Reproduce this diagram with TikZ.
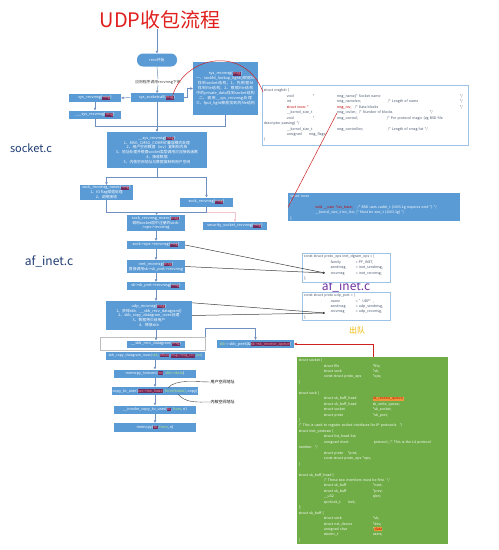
\documentclass[tikz,border=0pt]{standalone}
\usepackage{fontspec}
\setmainfont{Noto Sans CJK SC}
\XeTeXlinebreaklocale "zh"
\XeTeXlinebreakskip = 0pt plus 1pt
\usetikzlibrary{arrows.meta,calc}
\definecolor{boxblue}{HTML}{5B9BD5}
\definecolor{conn}{HTML}{6E8FBF}
\definecolor{sborder}{HTML}{9DC3E6}
\definecolor{sgreen}{HTML}{70AD47}
\definecolor{ttlred}{HTML}{E0201E}
\definecolor{navy}{HTML}{1F3B73}
\definecolor{purp}{HTML}{7030A0}
\definecolor{orng}{HTML}{F2B800}
\definecolor{tagbg}{HTML}{6E2B5E}
\definecolor{tagfg}{HTML}{FF8C8C}
\definecolor{codered}{HTML}{C00000}
\definecolor{lgreen}{HTML}{B5E68A}
\definecolor{stxt}{HTML}{44546A}
\definecolor{lpink}{HTML}{F2C4CC}
\definecolor{dkline}{HTML}{404040}
\definecolor{redl}{HTML}{D02020}
\definecolor{hlor}{HTML}{E89A3C}
\newcommand{\fsb}{\fontsize{3.8}{4.9}\selectfont}
\newcommand{\fss}{\fontsize{3.5}{5.45}\selectfont}
\newcommand{\tg}[1]{{\setlength{\fboxsep}{0.3pt}\colorbox{tagbg}{\color{tagfg}#1}}}
\newcommand{\gn}[1]{{\color{lgreen}#1}}
\newcommand{\rd}[1]{{\color{codered}#1}}
\newcommand{\hlo}[1]{{\setlength{\fboxsep}{0.3pt}\colorbox{hlor}{\color{codered}#1}}}
\newcommand{\cl}[2]{\makebox[#1pt][l]{#2}}
\newcommand{\ind}[1]{\hspace*{#1pt}}
\tikzset{
  bx/.style={fill=boxblue,text=white,font=\fsb,inner sep=0.5pt,align=center},
  ln/.style={draw=conn,line width=0.5pt},
  ar/.style={ln,-{Triangle[length=2.4pt,width=2.4pt]}},
  arl/.style={draw=lpink,line width=0.5pt,-{Triangle[length=2.4pt,width=2.4pt]}},
  dk/.style={draw=dkline,line width=0.5pt,-{Triangle[length=2pt,width=2pt]}},
  rl/.style={draw=redl,line width=0.5pt},
  sbox/.style={draw=sborder,line width=0.6pt,fill=white,text=stxt,font=\fss,inner sep=1.5pt,align=left,anchor=north west},
  ann/.style={draw=black!75,line width=0.4pt},
  bigl/.style={inner sep=0pt},
}
\begin{document}
\begin{tikzpicture}[x=1pt,y=-1pt]
\fill[white] (0,0) rectangle (499,550);
\path[use as bounding box] (0,0) rectangle (499,550);

% title and file labels
\node[bigl,font=\fontsize{20}{24}\selectfont,text=ttlred] (title) at (160,20) {UDP收包流程};
\node[bigl,font=\fontsize{11}{13}\selectfont,text=navy] (lsock) at (31,148) {socket.c};
\node[bigl,font=\fontsize{12}{14}\selectfont,text=navy] (laf1) at (49,261) {af\_inet.c};
\node[bigl,font=\fontsize{12}{14}\selectfont,text=purp] (laf2) at (346,286) {af\_inet.c};
\node[bigl,font=\fontsize{8}{10}\selectfont,text=orng] (lout) at (357,330) {出队};

% socket.c part
\node[bx,rounded corners=6pt,minimum width=40pt,minimum height=13pt] (start) at (157,60) {recv开始};
\node[bx,minimum width=53pt,minimum height=8.5pt] (sc) at (157,97.5) {sys\_socketcall(\tg{msg})};
\node[fill=white,inner sep=0.5pt,font=\fsb,text=black!75] (lbl1) at (158,82) {应用程序调用recvmsg下来};
\node[bx,minimum width=52pt,minimum height=8pt] (sr) at (95,98) {sys\_recvmsg(\tg{msg})};
\node[bx,minimum width=52pt,minimum height=8pt] (ssr) at (95,114.5) {\_\_\_sys\_recvmsg(\tg{msg})};
\node[bx,minimum width=65pt,minimum height=53pt,text width=62pt] (big) at (225.5,88.5) {sys\_recvmsg(\tg{msg})\\一、sockfd\_lookup\_light()根据fd找到socket结构；1、先根据fd找到file结构；2、根据file结构中的private\_data找到socket结构\\二、调用\_\_sys\_recvmsg处理\\三、fput\_light释放找到的file结构};
\node[bx,minimum width=100pt,minimum height=36pt] (sysr) at (157,150) {\_\_sys\_recvmsg(\tg{msg})\\1、MSG\_CMSG\_COMPAT兼容模式处理\\2、用户空间数据（iov）复制到内核\\3、地址处理并根据socket类型调用对应接收函数\\4、接收数据\\5、内核空间地址与数据复制到用户空间};
\node[bx,minimum width=53pt,minimum height=15pt] (srn) at (106.5,192.5) {sock\_recvmsg\_nosec(\tg{msg})\\1、IO flag赋值处理\\2、调用接收};
\node[bx,minimum width=53pt,minimum height=9pt] (skr) at (206.5,202) {sock\_recvmsg(\tg{msg})};
\node[bx,minimum width=58pt,minimum height=16pt] (srn2) at (156,223) {sock\_recvmsg\_nosec(\tg{msg})\\调用socket层中注册的sock-\\>ops->recvmsg};
\node[bx,minimum width=64pt,minimum height=8pt] (sec) at (235,226) {security\_socket\_recvmsg(\tg{msg})};
\node[bx,minimum width=58pt,minimum height=8pt] (sor) at (156,245) {sock->ops->recvmsg(\tg{msg})};

% af_inet.c part
\node[bx,minimum width=58pt,minimum height=13pt] (inr) at (156,266.5) {inet\_recvmsg(\tg{msg})\\直接调用sk->sk\_prot->recvmsg};
\node[bx,minimum width=58pt,minimum height=8pt] (spr) at (156,286) {sk->sk\_prot->recvmsg(\tg{msg})};
\node[bx,minimum width=86pt,minimum height=29pt] (udp) at (149,315.5) {udp\_recvmsg(\tg{msg})\\1、获得skb：\_\_skb\_recv\_datagram()\\2、skb\_copy\_datagram\_iovec处理\\3、数据拷贝给用户\\4、释放skb};
\node[draw=black!25,line width=0.5pt,minimum width=105pt,minimum height=13pt] (grp) at (152.5,343.5) {};
\node[bx,minimum width=58pt,minimum height=7pt] (skrd) at (156,344) {\_\_skb\_recv\_datagram(\tg{msg})};
\node[bx,minimum width=99pt,minimum height=8pt,font=\fontsize{3.4}{4.5}\selectfont] (scd) at (155.5,356) {skb\_copy\_datagram\_iovec(\gn{skb}, \tg{offset}, \tg{msg->msg\_iov}, \gn{len})};
\node[bx,minimum width=82pt,minimum height=8pt] (mti) at (155,373.5) {memcpy\_toiovec(\tg{iov}, \gn{skb->data})};
\node[bx,minimum width=82pt,minimum height=8pt] (ctu) at (155,391) {copy\_to\_user(\tg{iov->iov\_base}, \gn{from(kdata)}, copy)};
\node[bx,minimum width=82pt,minimum height=8pt] (ictu) at (155,409.5) {\_\_invoke\_copy\_to\_user(\tg{to}, \gn{from}, n)};
\node[bx,minimum width=82pt,minimum height=9pt] (mcp) at (155,427.5) {memcpy(\tg{to}, \gn{from}, n)};
\node[bx,minimum width=77pt,minimum height=8pt] (peek) at (255.5,344) {\gn{skb} = skb\_peek(\&\tg{sk->sk\_receive\_queue})};
\node[inner sep=0.5pt,font=\fontsize{4}{5}\selectfont,anchor=west] (ulbl) at (210,382) {用户空间地址};
\node[inner sep=0.5pt,font=\fontsize{4}{5}\selectfont,anchor=west] (klbl) at (210,402) {内核空间地址};

% struct boxes
\node[sbox,minimum width=206pt,minimum height=60pt,text width=203pt] (msghdr) at (262,85) {struct msghdr \{\\
\ind{23}\cl{26}{void}\cl{24}{*}\cl{18}{msg\_name;}\cl{105}{/* Socket name}*/\\
\ind{23}\cl{50}{int}\cl{51}{msg\_namelen;}\cl{72}{/* Length of name}*/\\
\ind{23}\cl{50}{\rd{struct iovec *}}\cl{18}{\rd{msg\_iov;}}\cl{105}{/* Data blocks}*/\\
\ind{23}\cl{50}{\_\_kernel\_size\_t}\cl{93}{msg\_iovlen;\ \ /* Number of blocks}*/\\
\ind{23}\cl{26}{void}\cl{24}{*}\cl{50}{msg\_control;}/* Per protocol magic (eg BSD file\\
descriptor passing) */\\
\ind{23}\cl{50}{\_\_kernel\_size\_t}\cl{51}{msg\_controllen;}/* Length of cmsg list */\\
\ind{23}\cl{22}{unsigned}msg\_flags;\\
\}};
\node[sbox,draw=none,fill=boxblue,text=white,minimum width=172pt,minimum height=27pt,text width=168pt] (iov) at (288,193) {struct iovec\\
\{\\
\ind{25}\rd{void \_\_user *iov\_base;}\ \ \ \ /* BSD uses caddr\_t (1003.1g requires void *) */\\
\ind{25}\_\_kernel\_size\_t iov\_len; /* Must be size\_t (1003.1g) */\\
\};};
\node[sbox,minimum width=88pt,minimum height=29pt,text width=85pt] (ido) at (302,253) {const struct proto\_ops inet\_dgram\_ops = \{\\
\ind{26}\cl{26}{.family}= PF\_INET,\\
\ind{26}\cl{26}{.sendmsg}= inet\_sendmsg,\\
\ind{26}\cl{26}{.recvmsg}= inet\_recvmsg,\\
\};};
\node[sbox,minimum width=88pt,minimum height=27pt,text width=85pt] (uprot) at (302,292) {const struct proto udp\_prot = \{\\
\ind{26}\cl{26}{.name}= "UDP",\\
\ind{26}\cl{26}{.sendmsg}= udp\_sendmsg,\\
\ind{26}\cl{26}{.recvmsg}= udp\_recvmsg,\\
\};};
\node[sbox,draw=none,fill=sgreen,text=white,minimum width=151pt,minimum height=184pt,text width=148pt] (grn) at (297,357) {struct socket \{\\
\ind{25}\cl{49}{struct file}*file;\\
\ind{25}\cl{49}{struct sock}*sk;\\
\ind{25}\cl{49}{const struct proto\_ops}*ops;\\
\}\\[5.45pt]
struct sock \{\\
\ind{25}\cl{49}{struct sk\_buff\_head}\hlo{sk\_receive\_queue;}\\
\ind{25}\cl{49}{struct sk\_buff\_head}sk\_write\_queue;\\
\ind{25}\cl{49}{struct socket}*sk\_socket;\\
\ind{25}\cl{49}{struct proto}*sk\_prot;\\
\}\\
/* This is used to register socket interfaces for IP protocols.\ \ */\\
struct inet\_protosw \{\\
\ind{25}struct list\_head list;\\
\ind{25}\cl{50}{unsigned short}protocol; /* This is the L4 protocol\\
number.\ \ */\\
\ind{25}\cl{24}{struct proto}*prot;\\
\ind{25}const struct proto\_ops *ops;\\
\}\\[5.45pt]
struct sk\_buff\_head \{\\
\ind{25}/* These two members must be first. */\\
\ind{25}\cl{49}{struct sk\_buff}*next;\\
\ind{25}\cl{49}{struct sk\_buff}*prev;\\
\ind{25}\cl{49}{\_\_u32}qlen;\\
\ind{25}\cl{24}{spinlock\_t}lock;\\
\};\\
struct sk\_buff \{\\
\ind{25}\cl{49}{struct sock}*sk;\\
\ind{25}\cl{49}{struct net\_device}*dev;\\
\ind{25}\cl{49}{unsigned char}*\hlo{data};\\
\ind{25}\cl{49}{atomic\_t}users;\\
\}};

% junction coordinates
\coordinate (j1) at (157,126);
\coordinate (j2) at (157,177);
\coordinate (j3) at (157,212);
\coordinate (idoR) at ($(ido.north west)+(23,20)$);
\coordinate (udpR) at ($(uprot.north west)+(23,21)$);
\coordinate (miov) at ($(msghdr.north west)+(75,28)$);
\coordinate (arcA) at ($(sc.east)+(-11,-2)$);
\coordinate (arcB) at ($(msghdr.north west)+(1,7)$);
\coordinate (u1) at ($(ctu.north)+(13,1)$);
\coordinate (k1) at ($(ctu.south)+(23,-1)$);
\coordinate (gtop) at ($(grn.north west)+(76,0)$);

% connectors
\draw[ar] (title.south -| start.north) -- (start.north);
\draw[ln] (start.south) -- (lbl1.north);
\draw[ar] (lbl1.south) -- (sc.north);
\draw[ar] (sc.west) -- (sr.east);
\draw[ar] (sc.east) -- ++(4,0) |- (big.west);
\draw[ar] (sr.south) -- (ssr.north);
\draw[ln] (ssr.south) |- (j1);
\draw[ln] (big.south) |- (j1);
\draw[ar] (sc.south) -- (sysr.north);
\draw[ln] (sysr.south) -- (j2);
\draw[ar] (j2) -| (srn.north);
\draw[ar] (j2) -| (skr.north);
\draw[ln] (srn.south) |- (j3);
\draw[ln] (skr.south) |- (j3);
\draw[arl] (skr.south |- j3) -| (sec.north);
\draw[ar] (j3) -- (srn2.north);
\draw[ar] (srn2.south) -- (sor.north);
\draw[ar] (sor.south) -- (inr.north);
\draw[ar] (inr.south) -- (spr.north);
\draw[ar] (spr.south) -- (spr.south |- udp.north);
\draw[ar] (spr.south |- udp.south) -- (skrd.north);
\draw[ar] (scd.south -| mti.north) -- (mti.north);
\draw[ar] (mti.south) -- (ctu.north);
\draw[ar] (ctu.south) -- (ictu.north);
\draw[ar] (ictu.south) -- (mcp.north);
\draw[ar] (grp.north east) -- ++(0,-9) -| (peek.north);
\draw[dk] (sor.east) -- (idoR);
\draw[dk] (inr.east) -- (idoR);
\draw[dk] ($(udp.north east)+(0,2)$) -- (udpR);
\draw[dk] (udp.east) -- (udpR);
\draw[rl] (arcA) .. controls (185,55) and (245,45) .. (arcB);
\draw[rl] (miov) -- (iov.west);
\draw[rl,{Triangle[length=2.4pt,width=2.4pt]}-] (peek.east) -| (gtop);
\draw[ann] (u1) .. controls ($(u1)+(8,-9)$) and ($(ulbl.west)+(-14,0)$) .. (ulbl.west);
\draw[ann] (k1) .. controls ($(k1)+(8,9)$) and ($(klbl.west)+(-14,0)$) .. (klbl.west);
\end{tikzpicture}
\end{document}
